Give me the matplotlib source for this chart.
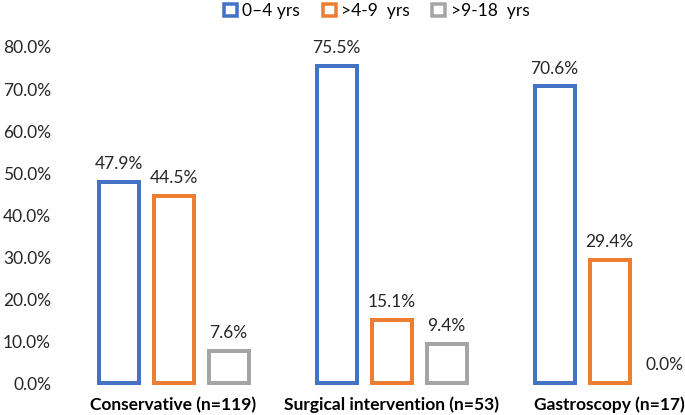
import matplotlib.pyplot as plt
import numpy as np
from matplotlib.patches import Patch

# .. (percent).
categories = ["Conservative (n=119)", "Surgical intervention (n=53)", "Gastroscopy (n=17)"]
series_names = ["0\u20134 yrs", ">4-9  yrs", ">9-18  yrs"]
age_0_4 = [47.9, 75.5, 70.6]
age_4_9 = [44.5, 15.1, 29.4]
age_9_18 = [7.6, 9.4, 0.0]
yticks = [0, 10, 20, 30, 40, 50, 60, 70, 80]

colors = ["#4472C4", "#ED7D31", "#A5A5A5"]

plt.rcParams["font.family"] = ["Lato", "DejaVu Sans"]

fig = plt.figure(figsize=(6.85, 4.15), dpi=100)
ax = fig.add_axes([58 / 685, 32 / 415, 1 - 58 / 685, 336 / 415])

x = np.arange(len(categories))
offset = 55 / 218
width = 40 / 218
lw = 4 * 72 / 100  # 4 px edge

for k, (values, color) in enumerate(zip([age_0_4, age_4_9, age_9_18], colors)):
    pos = x + (k - 1) * offset
    for xi, v in zip(pos, values):
        ax.bar(
            xi, v, width=width, facecolor="white", edgecolor=color,
            linewidth=lw if v > 0 else 0, clip_on=False,
        )
        ax.annotate(
            f"{v:.1f}%", (xi, v), xytext=(0, 7), textcoords="offset points",
            ha="center", va="bottom", fontsize=12.5, color="#262626",
        )

ax.set_xlim((58 - 173.5) / 218, (685 - 173.5) / 218)
ax.set_ylim(0, 80)
ax.set_yticks(yticks)
ax.set_yticklabels([f"{t:.1f}%" for t in yticks], fontsize=12.5, color="#262626")
ax.set_xticks(x)
ax.set_xticklabels(categories, fontsize=12.5, fontweight="bold", color="black")
ax.tick_params(axis="both", length=0)
ax.tick_params(axis="y", pad=5)
ax.tick_params(axis="x", pad=10)
for spine in ax.spines.values():
    spine.set_visible(False)

# .. Legend with hollow squares.
handles = [
    Patch(facecolor="white", edgecolor=c, linewidth=3.5 * 72 / 100) for c in colors
]
fig.legend(
    handles, series_names, loc="upper center", bbox_to_anchor=(0.55, 1.03),
    ncol=3, frameon=False, fontsize=12.5, handlelength=0.75, handleheight=0.75,
    handletextpad=0.3, columnspacing=1.3,
)

fig.savefig("out.png", dpi=100)
